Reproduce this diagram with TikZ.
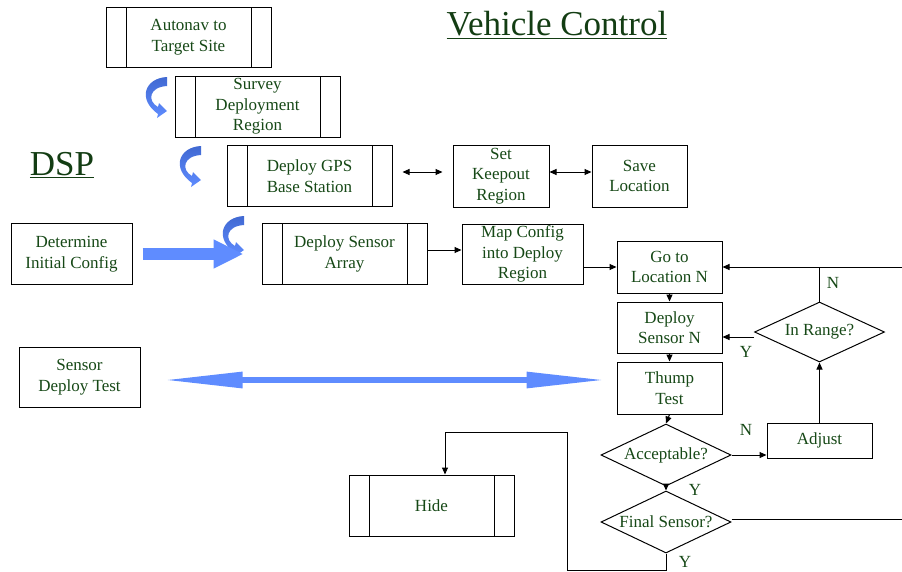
\documentclass[tikz,border=0pt]{standalone}
\usepackage{fontspec}
\setmainfont{Liberation Serif}
\usetikzlibrary{shapes.geometric,arrows.meta}

\definecolor{txtgreen}{RGB}{22,72,22}
\definecolor{arrblue}{RGB}{95,140,255}
\definecolor{arrdark}{RGB}{65,105,210}

% curved blue turn arrow, #1,#2 = top left corner
\newcommand{\turnarrow}[2]{%
  \begin{scope}[shift={(#1,#2)}]
    \shade[top color=arrdark, bottom color=arrblue]
      (25,0) .. controls (3,1) and (-5,22) .. (16,37) -- (15,41) -- (25,34)
      -- (17,26) -- (16,30) .. controls (5,24) and (7,10) .. (25,9) -- cycle;
  \end{scope}}

\begin{document}
\begin{tikzpicture}[x=1pt,y=-1pt,
    txt/.style={text=txtgreen, font=\fontsize{17}{20.5}\selectfont},
    box/.style={txt, draw, line width=1pt, inner sep=0pt, align=center},
    proc/.style={box, minimum width=165pt, minimum height=61pt,
      path picture={\draw[line width=1pt]
        ([xshift=20pt]path picture bounding box.north west) -- ([xshift=20pt]path picture bounding box.south west)
        ([xshift=-20pt]path picture bounding box.north east) -- ([xshift=-20pt]path picture bounding box.south east);}},
    dec/.style={box, diamond, aspect=2.1, minimum width=130pt, minimum height=62pt},
    flow/.style={line width=1pt, -{Triangle[length=7pt,width=6pt]}},
    both/.style={line width=1pt, {Triangle[length=7pt,width=6pt]}-{Triangle[length=7pt,width=6pt]}},
    title/.style={text=txtgreen!85!black, font=\fontsize{35}{40}\selectfont}]
    \useasboundingbox (0,0) rectangle (902,571);

    \node[title] (vc) at (557,25) {\underline{Vehicle Control}};
    \node[title] (dsp) at (62,165) {\underline{DSP}};

    \node[proc, minimum height=60pt] (auto) at (188.5,37) {Autonav to\\Target Site};
    \node[proc] (survey) at (257.5,106.5) {Survey\\Deployment\\Region};
    \node[proc] (gps) at (309.5,176) {Deploy GPS\\Base Station};
    \node[proc] (sarray) at (344.5,254) {Deploy Sensor\\Array};
    \node[proc] (hide) at (431.5,505.5) {Hide};

    \node[box, minimum width=121pt, minimum height=61pt] (detcfg) at (71.5,254) {Determine\\Initial Config};
    \node[box, minimum width=121pt, minimum height=60pt] (sdtest) at (79.5,377) {Sensor\\Deploy Test};
    \node[box, minimum width=96pt, minimum height=62pt] (keepout) at (501,176) {Set\\Keepout\\Region};
    \node[box, minimum width=95pt, minimum height=62pt] (saveloc) at (639.5,176) {Save\\Location};
    \node[box, minimum width=121pt, minimum height=60pt] (mapcfg) at (522.5,254) {Map Config\\into Deploy\\Region};
    \node[box, minimum width=105pt, minimum height=52pt] (gotoloc) at (669.5,267) {Go to\\Location N};
    \node[box, minimum width=105pt, minimum height=51pt] (deployn) at (669.5,327.5) {Deploy\\Sensor N};
    \node[box, minimum width=105pt, minimum height=52pt] (thump) at (669.5,388) {Thump\\Test};
    \node[box, minimum width=105pt, minimum height=35pt] (adjust) at (819.5,440.5) {Adjust};

    \node[dec, minimum height=60pt] (inrange) at (819.5,332) {In Range?};
    \node[dec] (accept) at (666,455) {Acceptable?};
    \node[dec] (final) at (666,522) {Final Sensor?};

    % blue arrows
    \turnarrow{142}{77}
    \turnarrow{176}{146}
    \turnarrow{219}{216}
    \draw[arrblue, line width=12pt, -{Triangle[length=30pt,width=27pt]}]
      ([xshift=10pt]detcfg.east) -- ([xshift=-18pt]sarray.west);
    \draw[arrblue, line width=6pt, {Triangle[length=80pt,width=15pt]}-{Triangle[length=80pt,width=15pt]}]
      ([xshift=22pt,yshift=-3pt]sdtest.east) -- ([xshift=-10pt,yshift=8pt]thump.west);

    % connectors
    \draw[both] ([xshift=10pt,yshift=4pt]gps.east) -- ([xshift=-10pt,yshift=4pt]keepout.west);
    \draw[both] ([yshift=4pt]keepout.east) -- ([yshift=4pt]saveloc.west);
    \draw[flow] ([yshift=4pt]sarray.east) -- ([yshift=4pt]mapcfg.west);
    \draw[flow] (mapcfg.east |- gotoloc.west) -- (gotoloc.west);
    \draw[flow] (gotoloc.south) -- (deployn.north);
    \draw[flow] (deployn.south) -- (thump.north);
    \draw[flow] (thump.south) -- (accept.north);
    \draw[flow] (accept.south) -- (final.north);
    \draw[flow] (accept.east) -- (accept.east -| adjust.west);
    \draw[flow] (adjust.north) -- (adjust.north |- inrange.south);
    \coordinate (yin) at ([yshift=-5pt]inrange.west);
    \draw[flow] (yin) -- (yin -| deployn.east);
    \coordinate (rtop) at (902,267);
    \draw[flow] (rtop) -- (gotoloc.east);
    \draw[line width=1pt] (inrange.north) -- (inrange.north |- gotoloc.east);
    \coordinate (rfin) at (902,519);
    \draw[line width=1pt] (final.east |- rfin) -- (rfin);
    \coordinate (lp1) at (567,570);
    \coordinate (lp2) at (445,432);
    \draw[flow] (final.south) |- (lp1) |- (lp2) -- (lp2 |- hide.north);

    % Y / N labels
    \node[txt] (ya) at (695,490) {Y};
    \node[txt] (na) at (746,430) {N};
    \node[txt] (yr) at (746,352) {Y};
    \node[txt] (nr) at (833,283) {N};
    \node[txt] (yf) at (685,562) {Y};
  \end{tikzpicture}
\end{document}
